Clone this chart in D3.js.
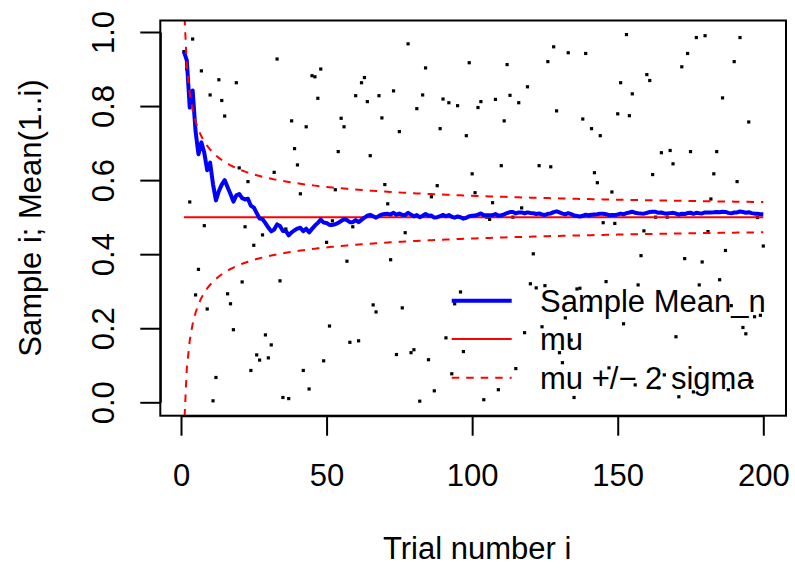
<!DOCTYPE html>
<html>
<head>
<meta charset="utf-8">
<script src="https://cdn.jsdelivr.net/npm/d3@7"></script>
<style>
  body { margin: 0; background: #fff; }
  text { font-family: "Liberation Sans", Arial, sans-serif; fill: #000; }
</style>
</head>
<body>
<div id="vis"></div>
<script>
// samples, trial 1..200
const samples = [
  0.947, 0.900, 0.541, 0.981, 0.290, 0.359, 0.895, 0.477, 0.252, 0.830,
  0.004, 0.067, 0.871, 0.815, 0.773, 0.293, 0.266, 0.196, 0.863, 0.633,
  0.325, 0.474, 0.596, 0.086, 0.424, 0.128, 0.114, 0.452, 0.182, 0.120,
  0.155, 0.621, 0.927, 0.328, 0.013, 0.468, 0.010, 0.760, 0.685, 0.641,
  0.563, 0.086, 0.744, 0.036, 0.882, 0.879, 0.821, 0.900, 0.112, 0.432,
  0.206, 0.490, 0.574, 0.677, 0.767, 0.744, 0.381, 0.162, 0.474, 0.828,
  0.166, 0.863, 0.877, 0.812, 0.666, 0.263, 0.244, 0.828, 0.768, 0.588,
  0.536, 0.385, 0.841, 0.129, 0.731, 0.255, 0.458, 0.968, 0.134, 0.142,
  0.793, 0.003, 0.830, 0.903, 0.115, 0.555, 0.031, 0.585, 0.739, 0.819,
  0.174, 0.809, 0.077, 0.266, 0.801, 0.298, 0.137, 0.720, 0.917, 0.617,
  0.566, 0.796, 0.812, 0.007, 0.500, 0.494, 0.539, 0.818, 0.034, 0.639,
  0.760, 0.912, 0.829, 0.500, 0.091, 0.809, 0.525, 0.188, 0.852, 0.320,
  0.401, 0.309, 0.639, 0.204, 0.315, 0.920, 0.636, 0.960, 0.787, 0.134,
  0.107, 0.228, 0.944, 0.168, 0.013, 0.306, 0.308, 0.765, 0.942, 0.249,
  0.739, 0.620, 0.593, 0.720, 0.485, 0.326, 0.093, 0.568, 0.483, 0.779,
  0.863, 0.212, 0.993, 0.774, 0.833, 0.047, 0.317, 0.396, 0.463, 0.885,
  0.869, 0.615, 0.500, 0.039, 0.674, 0.074, 0.500, 0.680, 0.644, 0.177,
  0.015, 0.906, 0.388, 0.942, 0.677, 0.028, 0.985, 0.317, 0.379, 0.990,
  0.461, 0.549, 0.617, 0.677, 0.331, 0.822, 0.410, 0.034, 0.261, 0.920,
  0.596, 0.985, 0.202, 0.185, 0.757, 0.057, 0.231, 0.499, 0.235, 0.422
]
const mu = 0.5
const sigma = Math.sqrt(1 / 12)

const xTicks = [0, 50, 100, 150, 200]
const yTicks = [0, 0.2, 0.4, 0.6, 0.8, 1.0]
const legendLabels = ["Sample Mean_n", "mu", "mu +/\u2212 2 sigma"]

const W = 795, H = 570
const box = { left: 160.3, right: 786, top: 20.5, bottom: 415.7 }

const svg = d3.select("#vis").append("svg")
  .attr("width", W).attr("height", H)

svg.append("rect").attr("width", W).attr("height", H).attr("fill", "#fff")

const x = d3.scaleLinear().domain([0, 200]).range([181, 763.3])
const y = d3.scaleLinear().domain([0, 1]).range([402.3, 32])

svg.append("clipPath").attr("id", "plotclip")
  .append("rect")
  .attr("x", box.left).attr("y", box.top)
  .attr("width", box.right - box.left).attr("height", box.bottom - box.top)

// trial index, running mean and the 2 sigma band
const trials = samples.map((v, i) => ({ i: i + 1, v: v }))
const cum = d3.cumsum(samples)
const means = trials.map((d, k) => ({ i: d.i, m: cum[k] / d.i }))
const band = trials.map(d => ({
  i: d.i,
  hi: mu + 2 * sigma / Math.sqrt(d.i),
  lo: mu - 2 * sigma / Math.sqrt(d.i)
}))

const plot = svg.append("g").attr("clip-path", "url(#plotclip)")

plot.selectAll(".pt")
  .data(trials)
  .enter().append("rect")
  .attr("class", "pt")
  .attr("x", d => x(d.i) - 1.6)
  .attr("y", d => y(d.v) - 1.6)
  .attr("width", 3.2).attr("height", 3.2)
  .attr("fill", "#000")

plot.append("path")
  .attr("d", d3.line()([[x(1), y(mu)], [x(200), y(mu)]]))
  .attr("stroke", "#ff0000").attr("stroke-width", 2).attr("fill", "none")

plot.append("path")
  .datum(means)
  .attr("d", d3.line().x(d => x(d.i)).y(d => y(d.m)))
  .attr("stroke", "#0000ff").attr("stroke-width", 4)
  .attr("stroke-linejoin", "round").attr("fill", "none")

;["hi", "lo"].forEach(k => {
  plot.append("path")
    .datum(band)
    .attr("d", d3.line().x(d => x(d.i)).y(d => y(d[k])))
    .attr("stroke", "#ff0000").attr("stroke-width", 2)
    .attr("stroke-dasharray", "7.5,7").attr("fill", "none")
})

// frame
svg.append("rect")
  .attr("x", box.left).attr("y", box.top)
  .attr("width", box.right - box.left).attr("height", box.bottom - box.top)
  .attr("fill", "none").attr("stroke", "#000").attr("stroke-width", 2)

const fs = 31

const xAxis = svg.append("g")
  .attr("transform", `translate(0,${box.bottom})`)
  .call(d3.axisBottom(x).tickValues(xTicks).tickSize(20).tickSizeOuter(0))
xAxis.selectAll("path, line").attr("stroke", "#000").attr("stroke-width", 2)
xAxis.selectAll("text")
  .attr("y", 70.5).attr("dy", 0)
  .style("font-size", fs + "px")
  .style("font-family", '"Liberation Sans", Arial, sans-serif')

const yAxis = svg.append("g")
  .attr("transform", `translate(${box.left},0)`)
  .call(d3.axisLeft(y).tickValues(yTicks).tickSize(20).tickSizeOuter(0)
    .tickFormat(d3.format(".1f")))
yAxis.selectAll("path, line").attr("stroke", "#000").attr("stroke-width", 2)
yAxis.selectAll("text")
  .attr("x", null).attr("dy", null)
  .attr("transform", "translate(-46,0) rotate(-90)")
  .attr("text-anchor", "middle")
  .style("font-size", fs + "px")
  .style("font-family", '"Liberation Sans", Arial, sans-serif')

svg.append("text")
  .attr("x", (box.left + box.right) / 2 + 4).attr("y", 559)
  .attr("text-anchor", "middle")
  .style("font-size", fs + "px")
  .text("Trial number i")

svg.append("text")
  .attr("transform", `translate(41,${(box.top + box.bottom) / 2}) rotate(-90)`)
  .attr("text-anchor", "middle")
  .style("font-size", fs + "px")
  .text("Sample i; Mean(1..i)")

// legend, no frame
const legendY = [300.7, 339, 377.7]
const legendStyle = [
  { c: "#0000ff", w: 4, dash: null },
  { c: "#ff0000", w: 2, dash: null },
  { c: "#ff0000", w: 2, dash: "7.5,7" }
]
const lg = svg.append("g")
legendLabels.forEach((lab, k) => {
  lg.append("line")
    .attr("x1", 451.7).attr("x2", 511.7)
    .attr("y1", legendY[k]).attr("y2", legendY[k])
    .attr("stroke", legendStyle[k].c).attr("stroke-width", legendStyle[k].w)
    .attr("stroke-dasharray", legendStyle[k].dash)
  lg.append("text")
    .attr("x", 540).attr("y", legendY[k] + 11)
    .style("font-size", fs + "px")
    .text(lab)
})
</script>
</body>
</html>
